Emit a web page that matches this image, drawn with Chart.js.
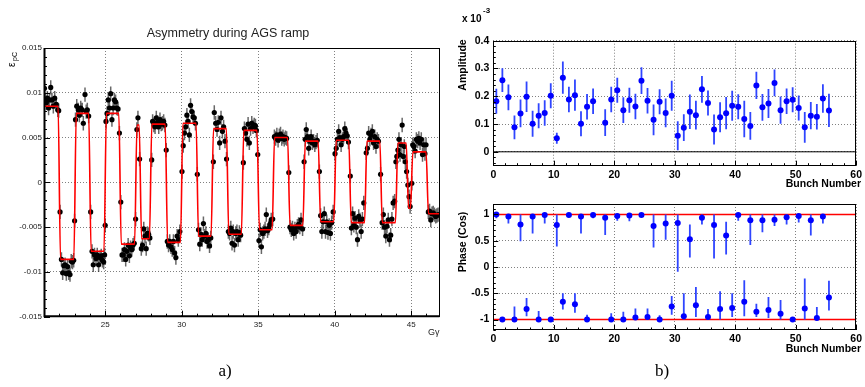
<!DOCTYPE html>
<html>
<head>
<meta charset="utf-8">
<script src="https://cdn.jsdelivr.net/npm/chart.js@4.4.1/dist/chart.umd.min.js"></script>
<style>
  body { margin: 0; background: #fff; width: 865px; height: 387px; position: relative; overflow: hidden; }
  canvas { position: absolute; }
</style>
</head>
<body>
<canvas id="asym" width="445" height="387" style="left:0;top:0;width:445px;height:387px"></canvas>
<canvas id="amp" width="420" height="190" style="left:445px;top:0;width:420px;height:190px"></canvas>
<canvas id="phase" width="420" height="197" style="left:445px;top:190px;width:420px;height:197px"></canvas>
<script>
// ---- a) asymmetry during the AGS ramp ----
const ggTicks = [25, 30, 35, 40, 45];
const epsTicks = [-0.015, -0.01, -0.005, 0, 0.005, 0.01, 0.015];
const epsTickLabels = ['-0.015', '-0.01', '-0.005', '0', '0.005', '0.01', '0.015'];

// measured points (G gamma, asymmetry)
const asymGG = [
  21.03, 21.08, 21.15, 21.22, 21.3, 21.36, 21.44, 21.52, 21.61, 21.7, 21.8, 21.9, 21.96,
  22.05, 22.14, 22.22, 22.3, 22.38, 22.46, 22.54, 22.62, 22.7, 22.78, 22.86, 22.94,
  23.0, 23.06, 23.14, 23.24, 23.31, 23.4, 23.5, 23.57, 23.68, 23.76, 23.83, 23.92,
  24.05, 24.14, 24.22, 24.3, 24.4, 24.48, 24.57, 24.66, 24.74, 24.82, 24.9, 24.96,
  25.0, 25.05, 25.12, 25.2, 25.28, 25.36, 25.44, 25.52, 25.6, 25.68, 25.76, 25.84,
  25.93, 26.02, 26.1, 26.18, 26.26, 26.34, 26.42, 26.5, 26.58, 26.66, 26.74, 26.82, 26.9,
  26.99, 27.07, 27.14, 27.25,
  27.36, 27.44, 27.52, 27.6, 27.68, 27.76, 27.84, 27.92,
  28.04, 28.1, 28.18, 28.26, 28.34, 28.42, 28.5, 28.58, 28.66, 28.74, 28.82, 28.9,
  28.99, 29.06, 29.14, 29.22, 29.3, 29.38, 29.46, 29.54, 29.62, 29.7, 29.78, 29.88,
  30.02, 30.1, 30.18, 30.26, 30.34, 30.42, 30.5, 30.58, 30.66, 30.74, 30.82, 30.9,
  31.02, 31.1, 31.18, 31.26, 31.34, 31.42, 31.5, 31.58, 31.66, 31.74, 31.82, 31.9,
  32.07, 32.13, 32.22, 32.31, 32.39, 32.48, 32.57, 32.66, 32.74, 32.83,
  32.93, 33.05, 33.13, 33.21, 33.29, 33.37, 33.45, 33.53, 33.61, 33.69, 33.77, 33.85,
  34.03, 34.1, 34.18, 34.26, 34.34, 34.42, 34.5, 34.58, 34.66, 34.74, 34.82, 34.88,
  34.97, 35.05, 35.13, 35.21, 35.29, 35.37, 35.45, 35.53, 35.61, 35.69, 35.77, 35.85,
  35.95, 36.06, 36.14, 36.22, 36.3, 36.38, 36.46, 36.54, 36.62, 36.7, 36.78, 36.86,
  37.0, 37.08, 37.16, 37.24, 37.32, 37.4, 37.48, 37.56, 37.64, 37.72, 37.8, 37.9,
  38.0, 38.07, 38.14, 38.22, 38.3, 38.38, 38.46, 38.54, 38.62, 38.7, 38.78, 38.86,
  39.0, 39.08, 39.16, 39.24, 39.32, 39.4, 39.48, 39.56, 39.64, 39.72, 39.8, 39.9,
  40.02, 40.1, 40.18, 40.26, 40.34, 40.42, 40.5, 40.58, 40.66, 40.74, 40.82, 40.9,
  41.02, 41.09, 41.17, 41.25, 41.33, 41.41, 41.49, 41.57, 41.65, 41.73, 41.81, 41.9,
  42.06, 42.14, 42.22, 42.3, 42.38, 42.46, 42.54, 42.62, 42.7, 42.78, 42.86,
  43.0, 43.1, 43.18, 43.26, 43.34, 43.42, 43.5, 43.58, 43.66, 43.74, 43.82, 43.92,
  44.0, 44.06, 44.13, 44.2, 44.27, 44.34, 44.41, 44.48, 44.55, 44.62, 44.7,
  44.78, 44.86, 44.93, 45.04,
  45.1, 45.18, 45.26, 45.34, 45.42, 45.5, 45.58, 45.66, 45.74, 45.82, 45.9, 45.97,
  46.12, 46.2, 46.28, 46.36, 46.44, 46.52, 46.6, 46.68, 46.76
];
const asymEps = [
  0.0105, 0.0092, 0.0089, 0.0094, 0.0083, 0.0092, 0.0106, 0.0092, 0.0085, 0.0094, 0.0087, 0.0081, 0.0080,
  -0.0033, -0.0086, -0.0101, -0.0093, -0.0092, -0.0102, -0.0094, -0.0101, -0.0103, -0.0088, -0.0089, -0.0087,
  -0.0043, 0.0070, 0.0085, 0.0081, 0.0075, 0.0083, 0.0081, 0.0066, 0.0098, 0.0079, 0.0081, 0.0074,
  -0.0033, -0.0077, -0.0092, -0.0081, -0.0085, -0.0081, -0.0092, -0.0084, -0.0082, -0.0087, -0.0089, -0.0081,
  -0.0048, 0.0068, 0.0077, 0.0092, 0.0083, 0.0099, 0.0070, 0.0083, 0.0092, 0.0090, 0.0083, 0.0082,
  0.0055, -0.0022, -0.0081, -0.0081, -0.0075, -0.0086, -0.0077, -0.0070, -0.0082, -0.0073, -0.0075, -0.0070, -0.0068,
  -0.0041, 0.0059, 0.0072, 0.0026,
  -0.0074, -0.0070, -0.0052, -0.0060, -0.0074, -0.0057, -0.0058, -0.0062,
  0.0025, 0.0068, 0.0064, 0.0062, 0.0072, 0.0067, 0.0062, 0.0070, 0.0065, 0.0066, 0.0068, 0.0064,
  0.0036, -0.0066, -0.0070, -0.0066, -0.0072, -0.0075, -0.0066, -0.0079, -0.0084, -0.0060, -0.0064, -0.0055,
  0.0012, 0.0041, 0.0055, 0.0062, 0.0075, 0.0068, 0.0053, 0.0086, 0.0079, 0.0073, 0.0072, 0.0066,
  0.0009, -0.0053, -0.0069, -0.0058, -0.0064, -0.0046, -0.0060, -0.0057, -0.0066, -0.0064, -0.0071, -0.0062,
  0.0023, 0.0078, 0.0066, 0.0059, 0.0067, 0.0044, 0.0072, 0.0057, 0.0062, 0.0046,
  0.0026, -0.0055, -0.0057, -0.0051, -0.0068, -0.0055, -0.0070, -0.0057, -0.0055, -0.0064, -0.0056, -0.0059,
  0.0022, 0.0060, 0.0055, 0.0048, 0.0065, 0.0044, 0.0060, 0.0066, 0.0062, 0.0064, 0.0063, 0.0058,
  0.0031, -0.0065, -0.0053, -0.0072, -0.0057, -0.0055, -0.0052, -0.0036, -0.0054, -0.0051, -0.0047, -0.0042,
  -0.0041, 0.0051, 0.0049, 0.0053, 0.0047, 0.0052, 0.0054, 0.0049, 0.0051, 0.0048, 0.0050, 0.0049,
  0.0011, -0.0050, -0.0053, -0.0051, -0.0057, -0.0052, -0.0055, -0.0049, -0.0047, -0.0050, -0.0042, -0.0052,
  0.0023, 0.0048, 0.0059, 0.0051, 0.0038, 0.0046, 0.0051, 0.0044, 0.0046, 0.0042, 0.0045, 0.0047,
  0.0012, -0.0037, -0.0055, -0.0044, -0.0035, -0.0055, -0.0044, -0.0056, -0.0048, -0.0057, -0.0045, -0.0033,
  0.0032, 0.0038, 0.0048, 0.0057, 0.0050, 0.0042, 0.0048, 0.0051, 0.0060, 0.0055, 0.0052, 0.0045,
  0.0007, -0.0051, -0.0035, -0.0048, -0.0040, -0.0050, -0.0064, -0.0038, -0.0042, -0.0055, -0.0041, -0.0023,
  0.0033, 0.0038, 0.0055, 0.0048, 0.0053, 0.0057, 0.0044, 0.0051, 0.0040, 0.0048, 0.0046,
  0.0009, -0.0045, -0.0036, -0.0050, -0.0060, -0.0049, -0.0042, -0.0064, -0.0059, -0.0041, -0.0023, -0.0021,
  0.0023, 0.0029, 0.0036, 0.0048, 0.0031, 0.0042, 0.0064, 0.0029, 0.0040, 0.0023, 0.0012,
  -0.0003, -0.0016, -0.0027, -0.0001,
  0.0042, 0.0040, 0.0035, 0.0048, 0.0046, 0.0049, 0.0044, 0.0048, 0.0031, 0.0042, 0.0032, 0.0042,
  -0.0033, -0.0032, -0.0042, -0.0035, -0.0034, -0.0036, -0.0038, -0.0037, -0.0036
];
const asymErr = 0.0008; // typical error bar half-length

// fitted curve, corner points of the flipping steps
const fitGG = [
  21.0, 21.92, 22.08, 22.95, 23.11, 23.92, 24.08, 24.92, 25.08, 25.89, 26.05, 26.92, 27.08, 27.22,
  27.38, 27.89, 28.05, 28.92, 29.08, 29.92, 30.08, 30.94, 31.1, 31.92, 32.08, 32.92, 33.08, 33.9,
  34.06, 34.92, 35.08, 35.91, 36.07, 36.92, 37.08, 37.92, 38.08, 38.92, 39.08, 39.94, 40.1, 40.92,
  41.08, 41.95, 42.11, 42.95, 43.11, 43.97, 44.13, 44.67, 44.83, 44.95, 45.11, 45.97, 46.13, 46.85
];
const fitEps = [
  0.0085, 0.0085, -0.0086, -0.0086, 0.0077, 0.0077, -0.0077, -0.0077, 0.0077, 0.0077, -0.0069, -0.0069, 0.0064, 0.0064,
  -0.0063, -0.0063, 0.0065, 0.0065, -0.0067, -0.0067, 0.0066, 0.0066, -0.0060, -0.0060, 0.0060, 0.0060, -0.0058, -0.0058,
  0.0058, 0.0058, -0.0053, -0.0053, 0.0050, 0.0050, -0.0048, -0.0048, 0.0046, 0.0046, -0.0044, -0.0044, 0.0047, 0.0047,
  -0.0045, -0.0045, 0.0046, 0.0046, -0.0045, -0.0045, 0.0044, 0.0044, -0.0029, -0.0029, 0.0034, 0.0034, -0.0035, -0.0035
];

// ---- b) per bunch amplitude and phase ----
const bunch = [
  0.5, 1.5, 2.5, 3.5, 4.5, 5.5, 6.5, 7.5, 8.5, 9.5, 10.5, 11.5, 12.5, 13.5, 14.5, 15.5, 16.5,
  18.5, 19.5, 20.5, 21.5, 22.5, 23.5, 24.5, 25.5, 26.5, 27.5, 28.5, 29.5, 30.5, 31.5, 32.5, 33.5,
  34.5, 35.5, 36.5, 37.5, 38.5, 39.5, 40.5, 41.5, 42.5, 43.5, 44.5, 45.5, 46.5, 47.5, 48.5, 49.5,
  50.5, 51.5, 52.5, 53.5, 54.5, 55.5
];
const ampVal = [
  0.182, 0.258, 0.196, 0.088, 0.138, 0.198, 0.101, 0.130, 0.140, 0.202, 0.049, 0.267, 0.188, 0.204, 0.101, 0.162, 0.182,
  0.105, 0.188, 0.222, 0.150, 0.186, 0.163, 0.256, 0.184, 0.115, 0.180, 0.140, 0.202, 0.058, 0.087, 0.144, 0.132,
  0.225, 0.176, 0.080, 0.124, 0.139, 0.166, 0.162, 0.118, 0.093, 0.239, 0.160, 0.174, 0.248, 0.150, 0.182, 0.187,
  0.158, 0.088, 0.130, 0.126, 0.192, 0.149
];
const ampErr = [
  0.045, 0.043, 0.046, 0.043, 0.050, 0.055, 0.047, 0.045, 0.046, 0.045, 0.020, 0.058, 0.046, 0.056, 0.045, 0.046, 0.046,
  0.048, 0.046, 0.045, 0.046, 0.045, 0.046, 0.048, 0.046, 0.055, 0.045, 0.052, 0.054, 0.052, 0.048, 0.062, 0.052,
  0.048, 0.045, 0.054, 0.054, 0.058, 0.054, 0.045, 0.066, 0.050, 0.049, 0.048, 0.052, 0.048, 0.049, 0.046, 0.045,
  0.045, 0.055, 0.049, 0.046, 0.051, 0.060
];
const phaseVal = [
  1.0, -1.0, 0.96, -1.0, 0.81, -0.80, 0.96, -1.0, 0.99, -1.0, 0.80, -0.66, 0.99, -0.71, 0.96, -1.0, 0.99,
  0.94, -1.0, 0.97, -1.0, 0.98, -0.96, 0.99, -0.95, 0.78, -1.0, 0.83, -0.75, 0.84, -0.94, 0.53, -0.73,
  0.94, -0.95, 0.80, -0.80, 0.60, -0.78, 0.99, -0.66, 0.89, -0.85, 0.89, -0.82, 0.90, -0.89, 0.95, -1.0,
  0.97, -0.79, 0.89, -0.97, 0.96, -0.58
];
const phaseLo = [
  0.93, -1.0, 0.83, -1.0, 0.49, -0.94, 0.64, -1.0, 0.83, -1.0, 0.39, -0.81, 0.95, -0.87, 0.64, -1.0, 0.93,
  0.61, -1.0, 0.88, -1.0, 0.87, -1.0, 0.97, -1.0, 0.37, -1.0, 0.52, -0.91, -0.09, -1.0, 0.18, -0.95,
  0.81, -1.0, 0.16, -1.0, 0.24, -0.95, 0.88, -0.94, 0.42, -0.95, 0.66, -0.97, 0.78, -1.0, 0.81, -1.0,
  0.85, -1.0, 0.60, -1.0, 0.83, -0.83
];
const phaseHi = [
  1.0, -0.95, 1.0, -0.75, 1.0, -0.59, 1.0, -0.84, 1.0, -0.95, 1.0, -0.50, 1.0, -0.50, 1.0, -0.91, 1.0,
  1.0, -0.88, 1.0, -0.85, 1.0, -0.79, 1.0, -0.79, 1.0, -0.92, 1.0, -0.55, 1.0, -0.50, 0.81, -0.38,
  1.0, -0.80, 1.0, -0.46, 0.86, -0.50, 1.0, -0.25, 1.0, -0.70, 1.0, -0.57, 1.0, -0.63, 1.0, -0.97,
  1.0, -0.22, 1.0, -0.76, 1.0, -0.26
];
const bunchTicks = [0, 10, 20, 30, 40, 50, 60];
const ampTicks = [0, 0.1, 0.2, 0.3, 0.4];
const ampTickLabels = ['0', '0.1', '0.2', '0.3', '0.4'];
const phaseTicks = [-1, -0.5, 0, 0.5, 1];
const phaseTickLabels = ['-1', '-0.5', '0', '0.5', '1'];
const ampRefs = [0];
const phaseRefs = [1, -1];

const FONT = '"Liberation Sans", Arial, sans-serif';
const SERIF = '"Liberation Serif", "DejaVu Serif", serif';

// error bars drawn underneath the points
function errorBarPlugin(xs, lo, hi, color, width) {
  return {
    id: 'errorBars',
    beforeDatasetsDraw(chart) {
      const { ctx, chartArea: a, scales: { x, y } } = chart;
      ctx.save();
      ctx.beginPath();
      ctx.rect(a.left, a.top, a.right - a.left, a.bottom - a.top);
      ctx.clip();
      ctx.strokeStyle = color;
      ctx.lineWidth = width;
      ctx.beginPath();
      xs.forEach((xv, i) => {
        const X = x.getPixelForValue(xv);
        ctx.moveTo(X, y.getPixelForValue(lo(i)));
        ctx.lineTo(X, y.getPixelForValue(hi(i)));
      });
      ctx.stroke();
      ctx.restore();
    }
  };
}

// horizontal reference lines (zero line, cos = +-1)
function refLinePlugin(levels, color, width) {
  return {
    id: 'refLines',
    beforeDatasetsDraw(chart) {
      const { ctx, chartArea: a, scales: { y } } = chart;
      ctx.save();
      ctx.strokeStyle = color;
      ctx.lineWidth = width;
      levels.forEach(v => {
        const Y = y.getPixelForValue(v);
        ctx.beginPath();
        ctx.moveTo(a.left, Y);
        ctx.lineTo(a.right, Y);
        ctx.stroke();
      });
      ctx.restore();
    }
  };
}

// ROOT style frame with ticks pointing inwards
function framePlugin(o) {
  return {
    id: 'frame',
    afterDatasetsDraw(chart) {
      const { ctx, chartArea: a, scales: { x, y } } = chart;
      ctx.save();
      ctx.strokeStyle = '#000';
      ctx.lineWidth = 1;
      ctx.beginPath();
      for (let k = Math.ceil(x.min / o.xMinor - 1e-6); k * o.xMinor <= x.max + 1e-9; k++) {
        const v = k * o.xMinor;
        const major = Math.abs(v / o.xMajor - Math.round(v / o.xMajor)) < 1e-6;
        const X = Math.round(x.getPixelForValue(v)) + 0.5;
        ctx.moveTo(X, a.bottom);
        ctx.lineTo(X, a.bottom - (major ? o.majorLen : o.minorLen));
      }
      for (let k = Math.ceil(y.min / o.yMinor - 1e-6); k * o.yMinor <= y.max + 1e-9; k++) {
        const v = k * o.yMinor;
        const major = Math.abs(v / o.yMajor - Math.round(v / o.yMajor)) < 1e-6;
        const Y = Math.round(y.getPixelForValue(v)) + 0.5;
        ctx.moveTo(a.left, Y);
        ctx.lineTo(a.left + (major ? o.majorLen : o.minorLen), Y);
      }
      ctx.stroke();
      ctx.strokeRect(Math.round(a.left) + 0.5, Math.round(a.top) + 0.5,
        Math.round(a.right - a.left) - 1, Math.round(a.bottom - a.top) - 1);
      if (o.axisWidth > 1) {
        ctx.lineWidth = o.axisWidth;
        ctx.beginPath();
        ctx.moveTo(a.left + 0.5, a.top);
        ctx.lineTo(a.left + 0.5, a.bottom - 0.5);
        ctx.lineTo(a.right, a.bottom - 0.5);
        ctx.stroke();
      }
      ctx.restore();
    }
  };
}

function textPlugin(items) {
  return {
    id: 'texts',
    afterDraw(chart) {
      const ctx = chart.ctx;
      items.forEach(t => {
        ctx.save();
        ctx.font = t.font;
        ctx.fillStyle = t.color || '#000';
        ctx.textAlign = t.align || 'left';
        ctx.textBaseline = t.baseline || 'alphabetic';
        ctx.translate(t.x, t.y);
        if (t.rotate) ctx.rotate(t.rotate);
        ctx.fillText(t.text, 0, 0);
        ctx.restore();
      });
    }
  };
}

const dotted = { color: '#808080', lineWidth: 1, drawTicks: false };
const dottedBorder = { display: false, dash: [1, 2] };

function baseOptions(pad, yWidth, xHeight) {
  return {
    responsive: false,
    animation: false,
    events: [],
    layout: { autoPadding: false, padding: pad },
    plugins: { legend: { display: false }, tooltip: { enabled: false } }
  };
}

// ---- chart a) ----
const asymOpts = baseOptions({ top: 48, right: 5.5, bottom: 0, left: 0 });
asymOpts.scales = {
  x: {
    type: 'linear', min: 21, max: 46.85,
    afterBuildTicks: s => { s.ticks = ggTicks.map(v => ({ value: v })); },
    afterFit: s => { s.height = 387 - 316.7; },
    ticks: { font: { family: FONT, size: 8 }, color: '#222', padding: 3, maxRotation: 0, autoSkip: false },
    grid: dotted, border: dottedBorder
  },
  y: {
    type: 'linear', min: -0.015, max: 0.015,
    afterBuildTicks: s => { s.ticks = epsTicks.map(v => ({ value: v })); },
    afterFit: s => { s.width = 44; },
    ticks: { font: { family: FONT, size: 8 }, color: '#222', padding: 2, autoSkip: false,
      callback: (v, i) => epsTickLabels[i] },
    grid: dotted, border: dottedBorder
  }
};

new Chart(document.getElementById('asym'), {
  type: 'scatter',
  data: {
    datasets: [
      {
        label: 'fit',
        data: fitGG.map((g, i) => ({ x: g, y: fitEps[i] })),
        showLine: true,
        borderColor: '#ff0000',
        borderWidth: 1.6,
        pointRadius: 0,
        cubicInterpolationMode: 'monotone',
        order: 0
      },
      {
        label: 'asymmetry',
        data: asymGG.map((g, i) => ({ x: g, y: asymEps[i] })),
        pointRadius: 2.6,
        pointBackgroundColor: '#000',
        pointBorderWidth: 0,
        order: 1
      }
    ]
  },
  options: asymOpts,
  plugins: [
    errorBarPlugin(asymGG, i => asymEps[i] - asymErr, i => asymEps[i] + asymErr, 'rgba(40,40,40,0.7)', 1.5),
    framePlugin({ xMinor: 1, xMajor: 5, yMinor: 0.001, yMajor: 0.005, majorLen: 6, minorLen: 3, axisWidth: 2 }),
    textPlugin([
      { text: 'Asymmetry during AGS ramp', x: 228, y: 34, font: '12.5px ' + FONT, align: 'center', baseline: 'middle', color: '#222' },
      { text: 'ε', x: 15, y: 67, font: '10px ' + FONT, rotate: -Math.PI / 2 },
      { text: 'pC', x: 17, y: 61, font: '7px ' + FONT, rotate: -Math.PI / 2 },
      { text: 'Gγ', x: 428, y: 333, font: '9px ' + FONT, baseline: 'middle', color: '#222' },
      { text: 'a)', x: 225, y: 372, font: '17px ' + SERIF, align: 'center', baseline: 'middle' }
    ])
  ]
});

// ---- chart b) amplitude ----
function bunchScale(height) {
  return {
    type: 'linear', min: 0, max: 60,
    afterBuildTicks: s => { s.ticks = bunchTicks.map(v => ({ value: v })); },
    afterFit: s => { s.height = height; },
    ticks: { font: { family: FONT, size: 10.5, weight: 'bold' }, color: '#000', padding: 3, maxRotation: 0, autoSkip: false },
    grid: dotted, border: dottedBorder
  };
}

const ampOpts = baseOptions({ top: 40.7, right: 3.3, bottom: 0, left: 0 });
ampOpts.scales = {
  x: bunchScale(190 - 165.7),
  y: {
    type: 'linear', min: -0.05, max: 0.4,
    afterBuildTicks: s => { s.ticks = ampTicks.map(v => ({ value: v })); },
    afterFit: s => { s.width = 48.3; },
    ticks: { font: { family: FONT, size: 10.5, weight: 'bold' }, color: '#000', padding: 4, autoSkip: false,
      callback: (v, i) => ampTickLabels[i] },
    grid: dotted, border: dottedBorder
  }
};

new Chart(document.getElementById('amp'), {
  type: 'scatter',
  data: {
    datasets: [{
      label: 'amplitude',
      data: bunch.map((b, i) => ({ x: b, y: ampVal[i] })),
      pointRadius: 3,
      pointBackgroundColor: '#0000ff',
      pointBorderWidth: 0
    }]
  },
  options: ampOpts,
  plugins: [
    refLinePlugin(ampRefs, '#000', 1),
    errorBarPlugin(bunch, i => ampVal[i] - ampErr[i], i => ampVal[i] + ampErr[i], '#2f45ff', 1.8),
    framePlugin({ xMinor: 2, xMajor: 10, yMinor: 0.02, yMajor: 0.1, majorLen: 5, minorLen: 2.5, axisWidth: 1 }),
    textPlugin([
      { text: 'x 10', x: 17, y: 22, font: 'bold 10px ' + FONT },
      { text: '-3', x: 38, y: 13, font: 'bold 8px ' + FONT },
      { text: 'Amplitude', x: 18.5, y: 65, font: 'bold 10.5px ' + FONT, align: 'center', baseline: 'middle', rotate: -Math.PI / 2 },
      { text: 'Bunch Number', x: 416, y: 184, font: 'bold 10.5px ' + FONT, align: 'right', baseline: 'middle' }
    ])
  ]
});

// ---- chart b) phase ----
const phaseOpts = baseOptions({ top: 14, right: 3.3, bottom: 0, left: 0 });
phaseOpts.scales = {
  x: bunchScale(197 - 140),
  y: {
    type: 'linear', min: -1.2, max: 1.2,
    afterBuildTicks: s => { s.ticks = phaseTicks.map(v => ({ value: v })); },
    afterFit: s => { s.width = 48.3; },
    ticks: { font: { family: FONT, size: 10.5, weight: 'bold' }, color: '#000', padding: 4, autoSkip: false,
      callback: (v, i) => phaseTickLabels[i] },
    grid: dotted, border: dottedBorder
  }
};

new Chart(document.getElementById('phase'), {
  type: 'scatter',
  data: {
    datasets: [{
      label: 'phase',
      data: bunch.map((b, i) => ({ x: b, y: phaseVal[i] })),
      pointRadius: 3,
      pointBackgroundColor: '#0000ff',
      pointBorderWidth: 0
    }]
  },
  options: phaseOpts,
  plugins: [
    refLinePlugin(phaseRefs, '#ff0000', 1.6),
    errorBarPlugin(bunch, i => phaseLo[i], i => phaseHi[i], '#2f45ff', 1.8),
    framePlugin({ xMinor: 2, xMajor: 10, yMinor: 0.1, yMajor: 0.5, majorLen: 5, minorLen: 2.5, axisWidth: 1 }),
    textPlugin([
      { text: 'Phase (Cos)', x: 18.5, y: 52, font: 'bold 10.5px ' + FONT, align: 'center', baseline: 'middle', rotate: -Math.PI / 2 },
      { text: 'Bunch Number', x: 416, y: 159, font: 'bold 10.5px ' + FONT, align: 'right', baseline: 'middle' },
      { text: 'b)', x: 217, y: 182, font: '17px ' + SERIF, align: 'center', baseline: 'middle' }
    ])
  ]
});
</script>
</body>
</html>
